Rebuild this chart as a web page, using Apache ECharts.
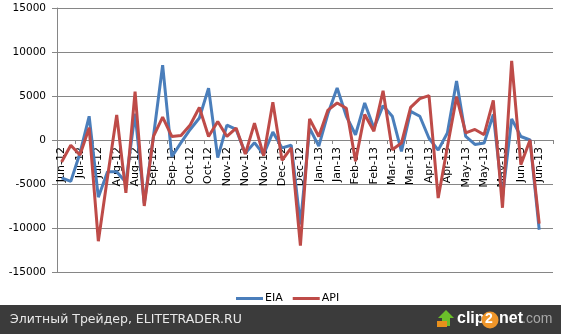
<!DOCTYPE html>
<html>
<head>
<meta charset="utf-8">
<script src="https://cdn.jsdelivr.net/npm/echarts@6/dist/echarts.min.js"></script>
<style>
html,body{margin:0;padding:0;background:#fff;}
#c{width:561px;height:334px;}
</style>
</head>
<body>
<div id="c"></div>
<script>
const categories = [
  'Jun-12','Jul-12','Jul-12','Jul-12','Jul-12','Aug-12','Aug-12','Aug-12','Aug-12','Aug-12',
  'Sep-12','Sep-12','Sep-12','Sep-12','Oct-12','Oct-12','Oct-12','Oct-12','Nov-12','Nov-12',
  'Nov-12','Nov-12','Nov-12','Dec-12','Dec-12','Dec-12','Dec-12','Jan-13','Jan-13','Jan-13',
  'Jan-13','Feb-13','Feb-13','Feb-13','Feb-13','Mar-13','Mar-13','Mar-13','Mar-13','Mar-13',
  'Apr-13','Apr-13','Apr-13','Apr-13','May-13','May-13','May-13','May-13','May-13','Jun-13',
  'Jun-13','Jun-13','Jun-13','Jul-13'
];
const eia = [
  -4300,-4700,-1500,2700,-6500,-3600,-3600,-4800,3000,-7200,
  400,8500,-1900,-300,1200,2500,5900,-2000,1700,1200,
  -1500,-300,-1650,900,-900,-600,-9600,1350,-700,3000,
  5900,2700,600,4200,1350,3900,2700,-1300,3250,2700,
  200,-1150,800,6700,400,-500,-350,2900,-6500,2400,
  400,0,-10200,null
];
const api = [
  -2500,-600,-1700,1400,-11500,-4200,2850,-6000,5500,-7500,
  400,2600,400,500,1700,3700,400,2100,400,1350,
  -1600,1900,-1800,4300,-2300,-900,-12000,2400,400,3400,
  4200,3600,-2400,2900,1000,5600,-1100,-350,3700,4700,
  5050,-6600,-800,4900,800,1200,600,4500,-7700,9000,
  -2800,0,-9500,null
];
const yTicks = [-15000,-10000,-5000,0,5000,10000,15000];
const seriesNames = ['EIA','API'];
const footerText = 'Элитный Трейдер, ELITETRADER.RU';

const chart = echarts.init(document.getElementById('c'), null, {renderer:'canvas'});
const font = 'DejaVu Sans';
chart.setOption({
  animation:false,
  backgroundColor:'#fff',
  color:['#4a7ebb','#be4b48'],
  grid:{left:57,right:8,top:8,bottom:62,containLabel:false,outerBoundsMode:'none'},
  legend:{
    data:seriesNames,
    left:231, bottom:25,
    icon:'rect', itemWidth:27, itemHeight:3, itemGap:10,
    textStyle:{fontFamily:font,fontSize:11,color:'#000',padding:[0,0,0,-3]}
  },
  xAxis:{
    type:'category',
    data:categories,
    boundaryGap:true,
    offset:-132,
    axisLine:{onZero:false,lineStyle:{color:'#868686',width:1}},
    axisTick:{show:true,interval:1,length:4,lineStyle:{color:'#868686'}},
    axisLabel:{interval:1,rotate:90,margin:7,fontFamily:font,fontSize:11,color:'#000'},
    splitLine:{show:false}
  },
  yAxis:{
    type:'value',
    min:yTicks[0], max:yTicks[yTicks.length-1], interval:5000,
    axisLine:{show:true,lineStyle:{color:'#868686'}},
    axisTick:{show:true,length:5,lineStyle:{color:'#868686'}},
    axisLabel:{margin:11,fontFamily:font,fontSize:10.5,color:'#000',formatter:function(v){return String(v);}},
    splitLine:{show:true,lineStyle:{color:'#868686',width:1}}
  },
  series:[
    {name:seriesNames[0],type:'line',data:eia,symbol:'none',lineStyle:{width:3,color:'#4a7ebb'},itemStyle:{color:'#4a7ebb'},z:2},
    {name:seriesNames[1],type:'line',data:api,symbol:'none',lineStyle:{width:3,color:'#be4b48'},itemStyle:{color:'#be4b48'},z:3}
  ],
  graphic:[
    {type:'rect',left:0,top:305,shape:{width:561,height:29},style:{fill:'#3b3b3b'},silent:true},
    {type:'text',left:10,top:313,style:{text:footerText,fill:'#e8e8e8',font:'12.5px "DejaVu Sans"'}},
    {type:'polygon',shape:{points:[[446,310],[454,318],[450,318],[450,326],[442,326],[442,318],[438,318]]},style:{fill:'#6bbf2a'}},
    {type:'rect',shape:{x:437,y:321,width:10,height:6},style:{fill:'#e8901c'}},
    {type:'text',left:457,top:311,style:{text:'clip',fill:'#ffffff',font:'bold 16px "Liberation Sans"'}},
    {type:'circle',shape:{cx:490,cy:320,r:8.5},style:{fill:'#f0962a'}},
    {type:'text',left:485,top:312,style:{text:'2',fill:'#ffffff',font:'bold 14px "Liberation Sans"'}},
    {type:'text',left:499,top:311,style:{text:'net',fill:'#ffffff',font:'bold 16px "Liberation Sans"'}},
    {type:'text',left:522,top:312,style:{text:'.com',fill:'#a8a8a8',font:'14px "Liberation Sans"'}}
  ]
});
</script>
</body>
</html>
